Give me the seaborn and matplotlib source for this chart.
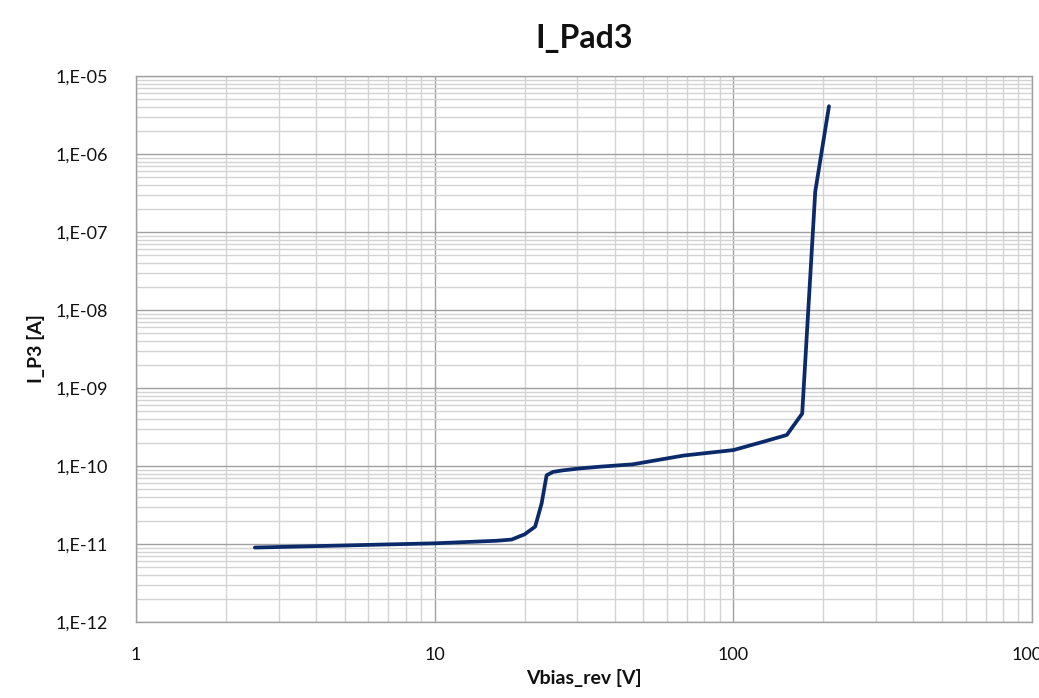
import numpy as np
import pandas as pd
import matplotlib
matplotlib.use("Agg")
import matplotlib.pyplot as plt
import seaborn as sns
from matplotlib.ticker import LogLocator, FuncFormatter, NullFormatter

# values
vbias = [2.5, 10.0, 16.1, 18.1, 20.0, 21.7, 22.8, 23.7, 24.9, 26.9, 30.6,
         35.8, 46.0, 68.0, 100.0, 129.0, 151.0, 170.0, 188.0, 209.0]
i_pad = [9.0e-12, 1.02e-11, 1.10e-11, 1.14e-11, 1.33e-11, 1.67e-11, 3.3e-11,
         7.6e-11, 8.4e-11, 8.8e-11, 9.3e-11, 9.8e-11, 1.05e-10, 1.36e-10,
         1.6e-10, 2.1e-10, 2.5e-10, 4.7e-10, 3.3e-07, 4.1e-06]
x_ticks = [1, 10, 100, 1000]
x_ticklabels = ["1", "10", "100", "1000"]

df = pd.DataFrame({"Vbias_rev [V]": vbias, "I_P3 [A]": i_pad})

sns.set_style("white")
plt.rcParams["font.family"] = ["Lato", "DejaVu Sans"]
plt.rcParams["text.color"] = "#111111"
plt.rcParams["xtick.color"] = "#111111"
plt.rcParams["ytick.color"] = "#111111"
plt.rcParams["axes.labelcolor"] = "#111111"

fig = plt.figure(figsize=(10.39, 6.98), dpi=100)
ax = fig.add_axes([0.1309, 0.1089, 0.8624, 0.7822])

sns.lineplot(data=df, x="Vbias_rev [V]", y="I_P3 [A]", ax=ax,
             color="#0b2a6a", linewidth=2.7, sort=False, zorder=3)

ax.set_xscale("log")
ax.set_yscale("log")
ax.set_xlim(1, 1000)
ax.set_ylim(1e-12, 1e-5)

ax.xaxis.set_minor_locator(LogLocator(base=10, subs=np.arange(2, 10), numticks=20))
ax.yaxis.set_major_locator(LogLocator(base=10, numticks=20))
ax.yaxis.set_minor_locator(LogLocator(base=10, subs=np.arange(2, 10), numticks=40))
ax.set_xticks(x_ticks)
ax.set_xticklabels(x_ticklabels)
ax.xaxis.set_minor_formatter(NullFormatter())
ax.yaxis.set_major_formatter(FuncFormatter(lambda v, p: "1,E-%02d" % round(-np.log10(v))))
ax.yaxis.set_minor_formatter(NullFormatter())

ax.grid(which="major", color="#a0a0a0", linewidth=1.0)
ax.grid(which="minor", color="#d3d3d3", linewidth=1.0)
ax.tick_params(which="both", length=0)
ax.tick_params(axis="y", pad=20, labelsize=13)
ax.tick_params(axis="x", pad=18, labelsize=13)
for s in ax.spines.values():
    s.set_color("#a0a0a0")
    s.set_linewidth(1.0)

ax.set_title("I_Pad3", fontsize=23, fontweight="bold", pad=20)
ax.set_xlabel("Vbias_rev [V]", fontsize=14, fontweight="bold", labelpad=4)
ax.set_ylabel("I_P3 [A]", fontsize=14, fontweight="bold", labelpad=8)

fig.savefig("out.png", dpi=100)
